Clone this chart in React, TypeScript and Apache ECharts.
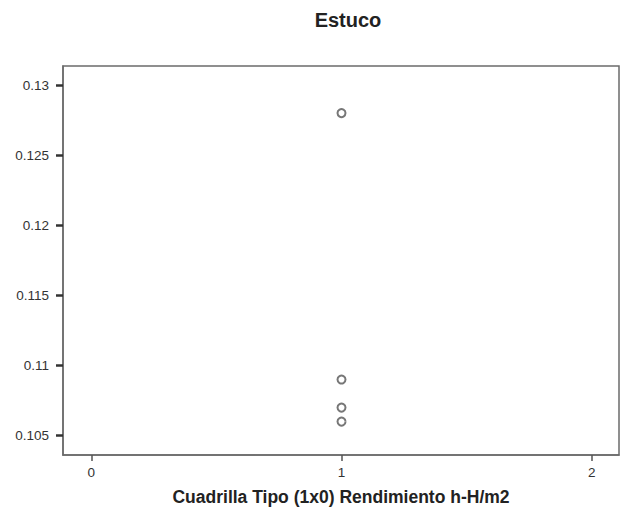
import React, { useEffect, useRef } from "react";
import * as echarts from "echarts";

const title = "Estuco";
const xTitle = "Cuadrilla Tipo (1x0) Rendimiento h-H/m2";
const xValues = [1, 1, 1, 1];
const yValues = [0.128, 0.109, 0.107, 0.106];
const yTicks = [0.105, 0.11, 0.115, 0.12, 0.125, 0.13];
const xTicks = [0, 1, 2];
const xMin = -0.113;
const xMax = 2.109;
const yMin = 0.10362;
const yMax = 0.13136;

export default function App() {
  const ref = useRef<HTMLDivElement>(null);
  useEffect(() => {
    const chart = echarts.init(ref.current!, null, { renderer: "svg" });
    const axisColor = "#6b6b6b";
    chart.setOption({
      animation: false,
      backgroundColor: "#fff",
      textStyle: { fontFamily: "Liberation Sans, Arial, sans-serif" },
      title: {
        text: title,
        left: 343,
        textAlign: "center",
        top: 5,
        textStyle: { fontSize: 20, fontWeight: "bold", color: "#222", fontFamily: "Liberation Sans, Arial, sans-serif" },
      },
      grid: {
        left: 63,
        right: 5,
        top: 66,
        bottom: 69,
        show: true,
        borderColor: axisColor,
        borderWidth: 1.5,
        containLabel: false,
      },
      xAxis: {
        type: "value",
        min: xMin,
        max: xMax,
        name: xTitle,
        nameLocation: "middle",
        nameGap: 33,
        nameTextStyle: { fontSize: 17.5, fontWeight: "bold", color: "#222" },
        splitLine: { show: false },
        axisLine: { show: true, onZero: false, lineStyle: { color: axisColor, width: 1.5 } },
        axisTick: { show: true, length: 6, customValues: xTicks, lineStyle: { color: "#555", width: 1.5 } },
        axisLabel: { customValues: xTicks, fontSize: 13.5, color: "#333", margin: 10, formatter: (v: number) => String(v) },
      },
      yAxis: {
        type: "value",
        min: yMin,
        max: yMax,
        splitLine: { show: false },
        axisLine: { show: true, onZero: false, lineStyle: { color: axisColor, width: 1.5 } },
        axisTick: { show: true, length: 7, customValues: yTicks, lineStyle: { color: "#333", width: 2.5 } },
        axisLabel: { customValues: yTicks, fontSize: 13.5, color: "#333", margin: 14, formatter: (v: number) => String(v) },
      },
      series: [
        {
          type: "scatter",
          data: xValues.map((x, i) => [x, yValues[i]]),
          symbol: "circle",
          symbolSize: 8,
          itemStyle: { color: "#fff", borderColor: "#555", borderWidth: 2 },
        },
      ],
    });
    return () => chart.dispose();
  }, []);
  return <div ref={ref} style={{ width: 624, height: 524, position: "absolute", left: 0, top: 0 }} />;
}
